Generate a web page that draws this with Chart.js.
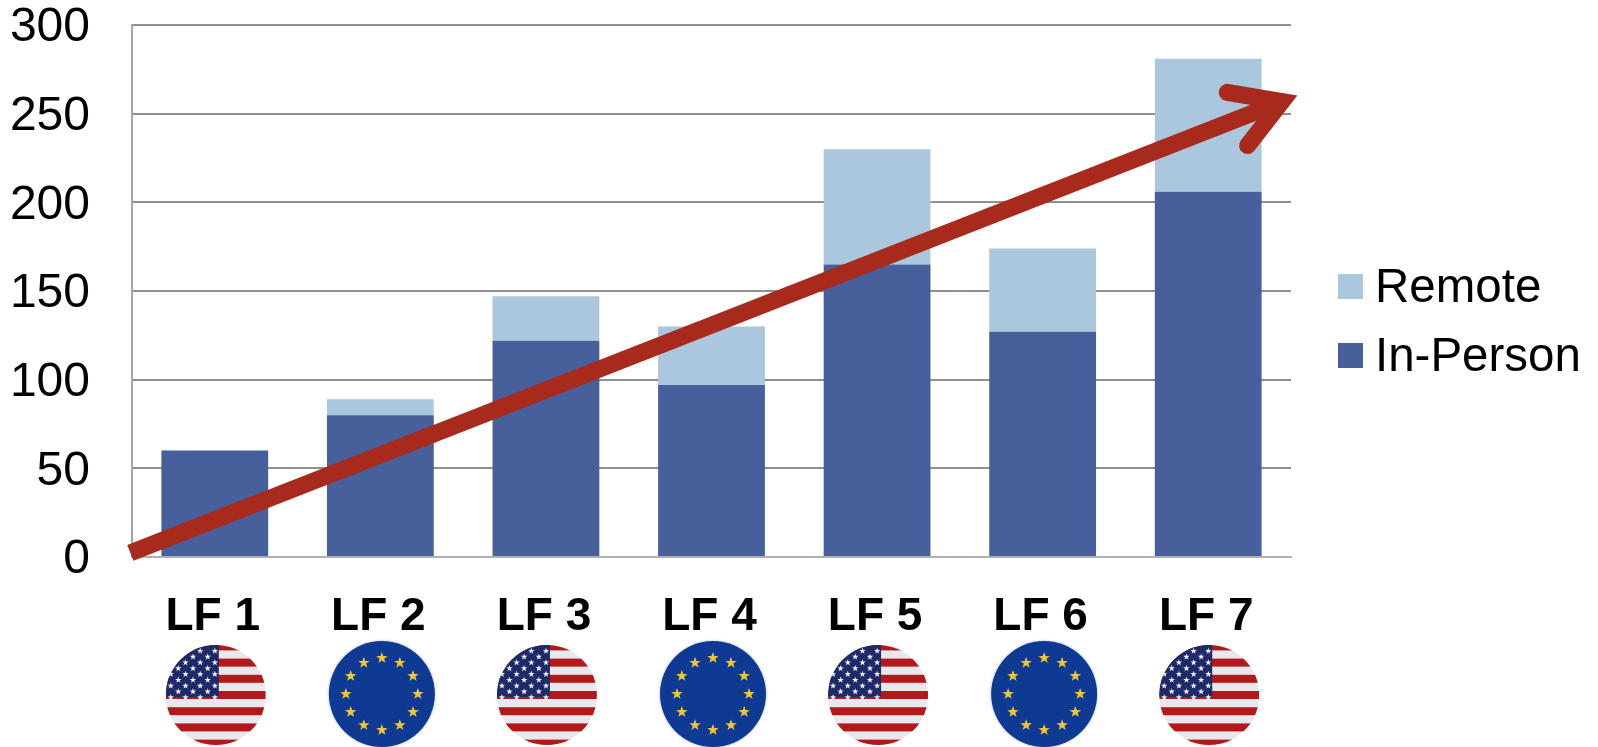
<!DOCTYPE html>
<html>
<head>
<meta charset="utf-8">
<script src="https://cdn.jsdelivr.net/npm/chart.js@4"></script>
<style>
  html, body { margin: 0; padding: 0; background: #fff; }
  canvas { display: block; }
</style>
</head>
<body>
<canvas id="lfChart" width="1598" height="747"></canvas>
<script>
const categories = ['LF 1', 'LF 2', 'LF 3', 'LF 4', 'LF 5', 'LF 6', 'LF 7'];
const inPerson = [60, 80, 122, 97, 165, 127, 206];
const remote = [0, 9, 25, 33, 65, 47, 75];
const flags = ['us', 'eu', 'us', 'eu', 'us', 'eu', 'us'];
const yTicks = [0, 50, 100, 150, 200, 250, 300];

// trend arrow, in axis units (x counts categories from the left edge)
const trendShaft = [{ x: -0.01, y: 2.3 }, { x: 6.945, y: 256.8 }];
const trendHead = [{ x: 6.615, y: 262 }, { x: 6.945, y: 256.8 }, { x: 6.738, y: 232 }];

const FONT = "'Liberation Sans', Arial, sans-serif";
const ARROW = '#A82A1C';
const GRID = '#8f8f8f';
const BLUE = '#475F9B';
const LIGHT = '#ABC7DD';

function star(ctx, cx, cy, r) {
    ctx.beginPath();
    for (let i = 0; i < 10; i++) {
        const rad = i % 2 ? r * 0.4 : r;
        const a = -Math.PI / 2 + i * Math.PI / 5;
        ctx.lineTo(cx + rad * Math.cos(a), cy + rad * Math.sin(a));
    }
    ctx.closePath();
    ctx.fill();
}

function drawUs(ctx, cx, cy) {
    const r = 50;
    ctx.save();
    ctx.beginPath();
    ctx.arc(cx, cy, r, 0, Math.PI * 2);
    ctx.clip();
    ctx.fillStyle = '#e9e8ec';
    ctx.fillRect(cx - r, cy - r, r * 2, r * 2);
    ctx.fillStyle = '#b3191b';
    for (let i = -3; i <= 3; i++) {
        ctx.fillRect(cx - r, cy + i * 16.2 - 4, r * 2, 8);
    }
    ctx.fillStyle = '#1e2a68';
    ctx.fillRect(cx - r, cy - r, r + 3, r + 2);
    ctx.fillStyle = '#eeeef2';
    for (let row = 0; row < 9; row++) {
        const sy = cy - 44 + row * 5.8;
        for (let col = 0; col < 5; col++) {
            const sx = cx - (row % 2 ? 37.5 : 45) + col * 14.7;
            if (sx < cx + 1) star(ctx, sx, sy, 3.4);
        }
    }
    ctx.restore();
}

function drawEu(ctx, cx, cy) {
    ctx.save();
    ctx.shadowColor = 'rgba(60, 80, 130, 0.4)';
    ctx.shadowBlur = 3;
    ctx.fillStyle = '#0e3a94';
    ctx.beginPath();
    ctx.arc(cx, cy, 53, 0, Math.PI * 2);
    ctx.fill();
    ctx.restore();
    ctx.fillStyle = '#f2c72e';
    for (let i = 0; i < 12; i++) {
        const a = i * Math.PI / 6;
        star(ctx, cx + 36 * Math.sin(a), cy - 36 * Math.cos(a), 6);
    }
}

// flags sit under the category labels
const flagPlugin = {
    id: 'flagPlugin',
    afterDraw(chart) {
        const xScale = chart.scales.x;
        flags.forEach(function (kind, i) {
            const cx = xScale.getPixelForTick(i);
            if (kind === 'us') drawUs(chart.ctx, cx + 1, 695);
            else drawEu(chart.ctx, cx + 1.5, 694);
        });
    }
};

// the built-in legend can't do the tight box/text gap, so draw it here
const legendPlugin = {
    id: 'legendPlugin',
    afterDraw(chart) {
        const ctx = chart.ctx;
        const entries = [chart.data.datasets[1], chart.data.datasets[0]];
        ctx.save();
        ctx.font = '47.5px ' + FONT;
        ctx.textBaseline = 'alphabetic';
        entries.forEach(function (ds, i) {
            const top = 274 + i * 69;
            ctx.fillStyle = ds.backgroundColor;
            ctx.fillRect(1338, top, 25, 25);
            ctx.fillStyle = '#000';
            ctx.fillText(ds.label, 1375, top + 27.5);
        });
        ctx.restore();
    }
};

const chartData = {
    labels: categories,
    datasets: [
        // grouped off: the extra x axis of the arrow would otherwise halve the bars
        { type: 'bar', label: 'In-Person', data: inPerson, backgroundColor: BLUE, grouped: false, order: 2 },
        { type: 'bar', label: 'Remote', data: remote, backgroundColor: LIGHT, grouped: false, order: 2 },
        {
            type: 'line', label: 'trend', data: trendShaft, xAxisID: 'xTrend', yAxisID: 'yTrend',
            borderColor: ARROW, borderWidth: 17, borderCapStyle: 'butt', pointRadius: 0, tension: 0, clip: false, order: 1
        },
        {
            type: 'line', label: 'head', data: trendHead, xAxisID: 'xTrend', yAxisID: 'yTrend',
            borderColor: ARROW, borderWidth: 17, borderCapStyle: 'round', borderJoinStyle: 'miter',
            pointRadius: 0, tension: 0, clip: false, order: 1
        }
    ]
};

new Chart(document.getElementById('lfChart'), {
    type: 'bar',
    data: chartData,
    plugins: [flagPlugin, legendPlugin],
    options: {
        responsive: false,
        animation: false,
        categoryPercentage: 1,
        barPercentage: 0.645,
        layout: { padding: { top: 25, right: 307, bottom: 0, left: 0 } },
        plugins: {
            tooltip: { enabled: false },
            legend: { display: false }
        },
        scales: {
            x: {
                stacked: true,
                afterFit: function (axis) { axis.height = 190; axis.paddingLeft = 0; axis.paddingRight = 0; },
                grid: { display: false, drawTicks: false },
                border: { color: '#b0b0b0', width: 2 },
                ticks: { color: '#000', padding: 33, labelOffset: -2, maxRotation: 0, font: { family: FONT, size: 46, weight: 'bold' } }
            },
            y: {
                stacked: true,
                min: 0,
                max: 300,
                afterFit: function (axis) { axis.width = 132; axis.paddingTop = 0; axis.paddingBottom = 0; },
                afterBuildTicks: function (axis) { axis.ticks = yTicks.map(function (v) { return { value: v }; }); },
                grid: { color: GRID, lineWidth: 2, drawTicks: false },
                border: { color: '#a6a6a6', width: 2 },
                ticks: { color: '#000', padding: 42, labelOffset: 3, font: { family: FONT, size: 48 } }
            },
            xTrend: { type: 'linear', display: false, offset: false, min: 0, max: 7 },
            yTrend: { type: 'linear', display: false, min: 0, max: 300 }
        }
    }
});
</script>
</body>
</html>
